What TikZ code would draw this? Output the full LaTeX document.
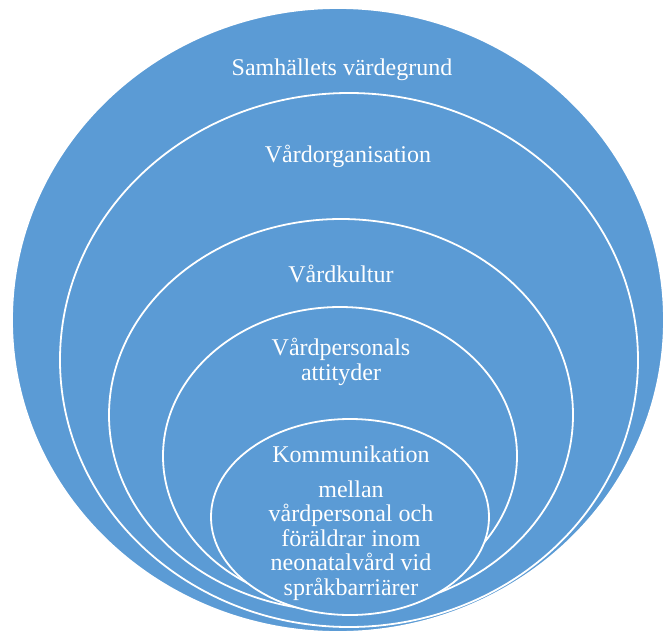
\documentclass[tikz,border=0pt]{standalone}
\usepackage{fontspec}
\setmainfont{Liberation Serif}
\definecolor{layerblue}{HTML}{5B9BD5}
\tikzset{
  layer/.style={fill=layerblue, draw=white, line width=1.8pt},
  % anchor=base sits on the baseline of the last line of a caption
  label/.style={text=white, inner sep=0pt, align=center, anchor=base,
    font=\fontsize{24}{24.5}\selectfont}
}
\begin{document}
\begin{tikzpicture}[x=1pt, y=-1pt]
  \useasboundingbox (0,0) rectangle (664,634);
  \clip (0,0) rectangle (664,634);
  % stacked layers, outermost first, all resting near the same bottom point
  \draw[layer] (338,320) ellipse [x radius=326, y radius=312];
  \draw[layer] (349,360) ellipse [x radius=289, y radius=267];
  \draw[layer] (341,415) ellipse [x radius=232, y radius=196];
  \draw[layer] (340,456) ellipse [x radius=177, y radius=149];
  \draw[layer] (350,517) ellipse [x radius=139, y radius=98];
  % layer captions
  \node[label] (samhalle) at (342,76) {Samhällets värdegrund};
  \node[label] (organisation) at (348,162) {Vårdorganisation};
  \node[label] (kultur) at (341,282) {Vårdkultur};
  \node[label] (attityder) at (341,380) {Vårdpersonals\\attityder};
  \node[label] (kommunikation) at (351,595)
    {Kommunikation\\[10.5pt]mellan\\vårdpersonal och\\föräldrar inom\\neonatalvård vid\\språkbarriärer};
\end{tikzpicture}
\end{document}
